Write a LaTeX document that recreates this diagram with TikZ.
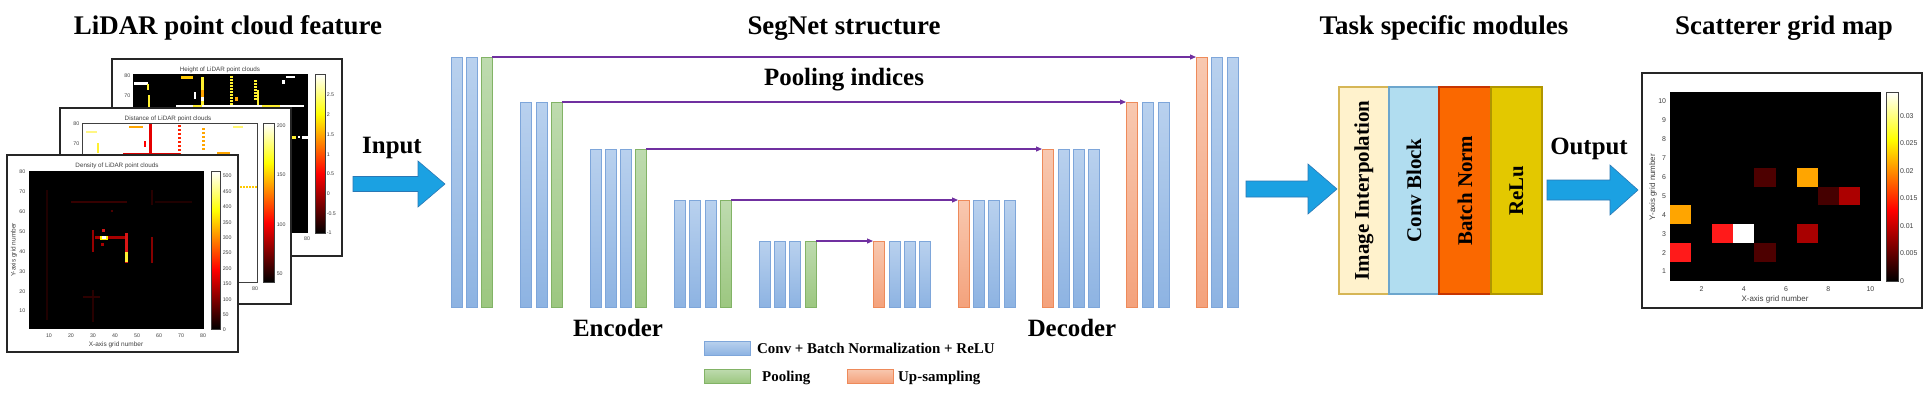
\documentclass[tikz,border=0pt]{standalone}
\usepackage{fontspec}
\setmainfont{Liberation Serif}
\setsansfont{Liberation Sans}
\usetikzlibrary{arrows.meta}
\definecolor{barblueT}{HTML}{B9D1EE}
\definecolor{barblueB}{HTML}{8DB3E2}
\definecolor{barblueD}{HTML}{7EA6DA}
\definecolor{bargreenT}{HTML}{BEDBAF}
\definecolor{bargreenB}{HTML}{9CC780}
\definecolor{bargreenD}{HTML}{82B366}
\definecolor{barorT}{HTML}{F8C8B0}
\definecolor{barorB}{HTML}{F4A27C}
\definecolor{barorD}{HTML}{EE8A5A}
\definecolor{pidx}{HTML}{7030A0}
\definecolor{arrfill}{HTML}{1BA1E2}
\definecolor{arrdraw}{HTML}{2A78B5}
\definecolor{axgray}{HTML}{404040}
\definecolor{creamF}{HTML}{FFF2CC}
\definecolor{creamD}{HTML}{D6B656}
\definecolor{lblueF}{HTML}{B1DDF0}
\definecolor{lblueD}{HTML}{6CA6CD}
\definecolor{orgF}{HTML}{FA6800}
\definecolor{orgD}{HTML}{C73500}
\definecolor{yelF}{HTML}{E3C800}
\definecolor{yelD}{HTML}{B09500}
\definecolor{hotA}{HTML}{4D0000}
\definecolor{hotB}{HTML}{A80000}
\definecolor{hotC}{HTML}{FF1A1A}
\definecolor{hotD}{HTML}{FFA500}
\definecolor{hotE}{HTML}{FFF030}
\newcommand\segbar[4]{\node[#4, anchor=north west, minimum height={(307-#3)*1bp}] (#1) at (#2,#3) {};}
\newcommand\hotbar[4]{%
  \pgfmathsetmacro\hbA{#4-(#4-#2)*0.375}%
  \pgfmathsetmacro\hbB{#4-(#4-#2)*0.75}%
  \shade[bottom color=black, top color=red] (#1,#4) rectangle (#3,\hbA);
  \shade[bottom color=red, top color=yellow] (#1,\hbA) rectangle (#3,\hbB);
  \shade[bottom color=yellow, top color=white] (#1,\hbB) rectangle (#3,#2);
  \draw[axgray, line width=0.4bp] (#1,#2) rectangle (#3,#4);}
\newcommand\scell[3]{\fill[#3] ({1670+(#1-1)*21.1},{281-#2*18.9}) rectangle ++(21.1,18.9);}
\begin{document}
\begin{tikzpicture}[x=1bp,y=-1bp,
  bar/.style={rectangle, inner sep=0, outer sep=0, minimum width=11bp, line width=0.6bp},
  convbar/.style={bar, draw=barblueD, top color=barblueT, bottom color=barblueB},
  poolbar/.style={bar, draw=bargreenD, top color=bargreenT, bottom color=bargreenB},
  upbar/.style={bar, draw=barorD, top color=barorT, bottom color=barorB},
  pidxarrow/.style={draw=pidx, line width=1.1bp, -{Triangle[length=6bp,width=5bp]}},
  blockarrow/.style={fill=arrfill, draw=arrdraw, line width=0.6bp, line join=miter},
  titletxt/.style={font=\fontsize{27}{30}\selectfont\bfseries, anchor=base, inner sep=0},
  lbltxt/.style={font=\fontsize{25}{28}\selectfont\bfseries, anchor=base, inner sep=0},
  modtxt/.style={font=\fontsize{21}{24}\selectfont\bfseries, rotate=90, inner sep=0},
  legtxt/.style={font=\fontsize{15}{17}\selectfont\bfseries, anchor=base west, inner sep=0},
  legbox/.style={rectangle, inner sep=0, outer sep=0, minimum width=46bp, minimum height=14bp, anchor=north west, line width=0.6bp},
  modbox/.style={rectangle, inner sep=0, outer sep=0, minimum height=207bp, anchor=north west, line width=1.2bp},
  panelbox/.style={draw=black!85, fill=white, line width=1.3bp},
  plottitle/.style={font=\sffamily\fontsize{6.3}{7}\selectfont, text=axgray, inner sep=0},
  tickl/.style={font=\sffamily\fontsize{5.3}{6}\selectfont, text=axgray, inner sep=0.6bp},
  tickm/.style={font=\sffamily\fontsize{7}{8}\selectfont, text=axgray, inner sep=0.8bp},
  axlbl/.style={font=\sffamily\fontsize{6.5}{7}\selectfont, text=axgray, inner sep=0},
  axlblm/.style={font=\sffamily\fontsize{8}{9}\selectfont, text=axgray, inner sep=0}]
\useasboundingbox[fill=white] (0,0) rectangle (1932,392);

% ---------------- Titles ----------------
\node[titletxt] (t1) at (228,34) {LiDAR point cloud feature};
\node[titletxt] (t2) at (844,34) {SegNet structure};
\node[titletxt] (t3) at (1444,34) {Task specific modules};
\node[titletxt] (t4) at (1784,34) {Scatterer grid map};

% ---------------- Height panel (back) ----------------
\draw[panelbox] (112,59) rectangle (342,256);
\fill[black] (133,74) rectangle (308,233);
\fill[white] (134,82) rectangle (148,84.5);
\fill[hotE] (146.5,84) rectangle (148.5,90);
\fill[hotE] (148,95) rectangle (150,107);
\fill[hotD!60!yellow] (181,76) rectangle (193,78.5);
\fill[hotE] (201,77) rectangle (203.5,107);
\fill[hotD] (201,90) rectangle (203.5,97);
\fill[white] (201,97) rectangle (203.5,101);
\fill[white] (194,92) rectangle (196,99);
\foreach \yy in {76,79,...,103} \fill[hotE] (230,\yy) rectangle (232.5,\yy+1.8);
\fill[hotD] (235,97) rectangle (238,101);
\foreach \yy in {80,83,...,98} \fill[hotE] (254,\yy) rectangle (256.5,\yy+1.8);
\fill[hotE] (257,90) rectangle (259,106);
\fill[white] (176,105) rectangle (304,107);
\fill[hotE] (193,105) rectangle (202,107);
\fill[hotE] (262,105) rectangle (280,107);
\fill[white] (286,76) rectangle (295,78);
\fill[white] (282,80) rectangle (285,84);
\fill[hotE] (292,136) rectangle (296,139);
\fill[white] (298,136) rectangle (300,138);
\fill[white] (302,136) rectangle (308,139);
\hotbar{315}{74}{325}{233}
\node[plottitle] (htitle) at (220,70) {Height of LiDAR point clouds};
\node[tickl, anchor=east] (hy80) at (131,76) {80};
\node[tickl, anchor=east] (hy70) at (131,96) {70};
\node[tickl] (hx80) at (307,239) {80};
\foreach \k/\t in {0/-1,1/-0.5,2/0,3/0.5,4/1,5/1.5,6/2,7/2.5}
  \node[tickl, anchor=west] (hc\k) at (326,{233-19.7*\k}) {\t};

% ---------------- Distance panel (middle) ----------------
\draw[panelbox] (60,108) rectangle (291,304);
\draw[axgray, line width=0.3bp] (82,123) rectangle (257,282);
\fill[hotE!60] (86,131) rectangle (97,133);
\fill[hotE] (97,143) rectangle (99,153);
\fill[hotD] (129,126) rectangle (143,128);
\fill[red!90!black] (149,124) rectangle (151.5,155);
\fill[red] (143.5,141) rectangle (145.5,147);
\foreach \yy in {125,129,...,153} \fill[red!75!orange] (178,\yy) rectangle (181,\yy+2);
\foreach \yy in {128,132,...,150} \fill[hotD] (202,\yy) rectangle (205,\yy+2);
\fill[red!85!black] (123,152.5) rectangle (180,155);
\fill[hotD] (217,152) rectangle (230,155);
\fill[hotE!70] (233,126) rectangle (243,128);
\foreach \xx in {240,243,...,255} \fill[hotD!60!yellow] (\xx,186) rectangle (\xx+2,188);
\hotbar{263}{123}{274}{282}
\node[plottitle] (dtitle) at (168,119) {Distance of LiDAR point clouds};
\node[tickl, anchor=east] (dy80) at (80,124) {80};
\node[tickl, anchor=east] (dy70) at (80,144) {70};
\node[tickl] (dx80) at (255,289) {80};
\foreach \v in {50,100,150,200}
  \node[tickl, anchor=west] (dc\v) at (276,{274-0.99*(\v-50)}) {\v};

% ---------------- Density panel (front) ----------------
\draw[panelbox] (7,155) rectangle (238,352);
\fill[black] (29,171) rectangle (204,329);
\fill[hotA!40!black] (46,190) rectangle (48,320);
\fill[hotA!70!black] (71,201) rectangle (127,203);
\fill[hotA!40!black] (155,201) rectangle (192,203);
\fill[hotA!50!black] (151,190) rectangle (153,205);
\fill[hotB!90!black] (92,230) rectangle (94,252);
\fill[hotB] (95,236) rectangle (125,239);
\fill[yellow] (100,235.5) rectangle (108,239.5);
\fill[white] (102,236) rectangle (106,239);
\fill[hotC!80!black] (102,229) rectangle (105,232);
\fill[hotB] (101,243) rectangle (104,246);
\fill[hotC!85!black] (125,233) rectangle (127.5,263);
\fill[hotE] (125,252) rectangle (127.5,262);
\fill[hotB!80!black] (151,237) rectangle (153,263);
\fill[hotA] (111,210) rectangle (113,212);
\fill[hotA!50!black] (92,290) rectangle (94,322);
\fill[hotA!60!black] (83,296) rectangle (100,298);
\hotbar{211}{171}{220}{329}
\node[plottitle] (ntitle) at (117,166) {Density of LiDAR point clouds};
\foreach \v in {10,20,...,80} \node[tickl, anchor=east] (ny\v) at (26,{331-1.986*\v}) {\v};
\foreach \v in {10,20,...,80} \node[tickl] (nx\v) at ({27+2.2*\v},336) {\v};
\foreach \v in {0,50,...,500} \node[tickl, anchor=west] (nc\v) at (222,{330-0.308*\v}) {\v};
\node[axlbl] (nxl) at (116,345) {X-axis grid number};
\node[axlbl, rotate=90] (nyl) at (14,250) {Y-axis grid number};

% ---------------- Input arrow ----------------
\draw[blockarrow] (353,176.5) -- (418,176.5) -- (418,161) -- (445,184) -- (418,207) -- (418,191.5) -- (353,191.5) -- cycle;
\node[lbltxt] (inlbl) at (392,153) {Input};

% ---------------- SegNet bars ----------------
\segbar{e11}{451}{57}{convbar}
\segbar{e12}{466}{57}{convbar}
\segbar{p1}{481}{57}{poolbar}
\segbar{e21}{520}{102}{convbar}
\segbar{e22}{536}{102}{convbar}
\segbar{p2}{551}{102}{poolbar}
\segbar{e31}{590}{149}{convbar}
\segbar{e32}{605}{149}{convbar}
\segbar{e33}{620}{149}{convbar}
\segbar{p3}{635}{149}{poolbar}
\segbar{e41}{674}{200}{convbar}
\segbar{e42}{689}{200}{convbar}
\segbar{e43}{705}{200}{convbar}
\segbar{p4}{720}{200}{poolbar}
\segbar{e51}{759}{241}{convbar}
\segbar{e52}{774}{241}{convbar}
\segbar{e53}{789}{241}{convbar}
\segbar{p5}{805}{241}{poolbar}
\segbar{u5}{873}{241}{upbar}
\segbar{d51}{889}{241}{convbar}
\segbar{d52}{904}{241}{convbar}
\segbar{d53}{919}{241}{convbar}
\segbar{u4}{958}{200}{upbar}
\segbar{d41}{973}{200}{convbar}
\segbar{d42}{988}{200}{convbar}
\segbar{d43}{1004}{200}{convbar}
\segbar{u3}{1042}{149}{upbar}
\segbar{d31}{1058}{149}{convbar}
\segbar{d32}{1073}{149}{convbar}
\segbar{d33}{1088}{149}{convbar}
\segbar{u2}{1126}{102}{upbar}
\segbar{d21}{1142}{102}{convbar}
\segbar{d22}{1158}{102}{convbar}
\segbar{u1}{1196}{57}{upbar}
\segbar{d11}{1211}{57}{convbar}
\segbar{d12}{1227}{57}{convbar}
\draw[pidxarrow] (p1.north east) -- (u1.north west);
\draw[pidxarrow] (p2.north east) -- (u2.north west);
\draw[pidxarrow] (p3.north east) -- (u3.north west);
\draw[pidxarrow] (p4.north east) -- (u4.north west);
\draw[pidxarrow] (p5.north east) -- (u5.north west);
\node[lbltxt] (pidxlbl) at (844,85) {Pooling indices};
\node[lbltxt] (enclbl) at (618,336) {Encoder};
\node[lbltxt] (declbl) at (1072,336) {Decoder};

% ---------------- Legend ----------------
\node[legbox, draw=barblueD, top color=barblueT, bottom color=barblueB] (lg1) at (704,341) {};
\node[legtxt] (lg1t) at (757,353) {Conv + Batch Normalization + ReLU};
\node[legbox, draw=bargreenD, top color=bargreenT, bottom color=bargreenB] (lg2) at (704,369) {};
\node[legtxt] (lg2t) at (762,381) {Pooling};
\node[legbox, draw=barorD, top color=barorT, bottom color=barorB] (lg3) at (847,369) {};
\node[legtxt] (lg3t) at (898,381) {Up-sampling};

% ---------------- Middle arrow ----------------
\draw[blockarrow] (1246,181) -- (1308,181) -- (1308,164) -- (1337,189) -- (1308,214) -- (1308,197) -- (1246,197) -- cycle;

% ---------------- Task specific modules ----------------
\node[modbox, fill=creamF, draw=creamD, minimum width=50bp] (m1) at (1339,87) {};
\node[modbox, fill=lblueF, draw=lblueD, minimum width=50bp] (m2) at (1389,87) {};
\node[modbox, fill=orgF, draw=orgD, minimum width=52bp] (m3) at (1439,87) {};
\node[modbox, fill=yelF, draw=yelD, minimum width=51bp] (m4) at (1491,87) {};
\node[modtxt] (m1t) at (m1.center) {Image Interpolation};
\node[modtxt] (m2t) at (m2.center) {Conv Block};
\node[modtxt] (m3t) at (m3.center) {Batch Norm};
\node[modtxt] (m4t) at (m4.center) {ReLu};

% ---------------- Output arrow ----------------
\draw[blockarrow] (1547,180) -- (1610,180) -- (1610,165) -- (1638,190) -- (1610,215) -- (1610,200) -- (1547,200) -- cycle;
\node[lbltxt] (outlbl) at (1589,154) {Output};

% ---------------- Scatterer grid map ----------------
\draw[panelbox] (1642,73) rectangle (1922,308);
\fill[black] (1670,92) rectangle (1881,281);
\scell{1}{4}{hotD}
\scell{1}{2}{hotC}
\scell{3}{3}{hotC}
\scell{4}{3}{white}
\scell{5}{2}{hotA}
\scell{5}{6}{hotA}
\scell{7}{6}{hotD}
\scell{7}{3}{hotB}
\scell{8}{5}{hotA!90!black}
\scell{9}{5}{hotB!95!red}
\hotbar{1886}{92}{1898}{281}
\foreach \j in {1,...,10} \node[tickm, anchor=east] (sy\j) at (1667,{281-(\j-0.5)*18.9}) {\j};
\foreach \i in {2,4,...,10} \node[tickm] (sx\i) at ({1670+(\i-0.5)*21.1},289) {\i};
\foreach \k/\t in {0/0,1/0.005,2/0.01,3/0.015,4/0.02,5/0.025,6/0.03}
  \node[tickm, anchor=west] (sc\k) at (1899,{281-27.5*\k}) {\t};
\node[axlblm] (sxl) at (1775,299) {X-axis grid number};
\node[axlblm, rotate=90] (syl) at (1653,187) {Y-axis grid number};
\end{tikzpicture}
\end{document}
